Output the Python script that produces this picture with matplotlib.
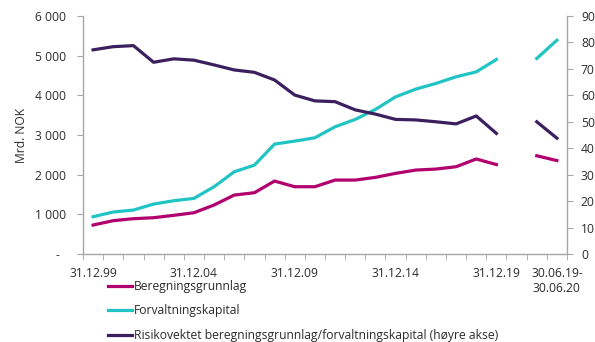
import numpy as np
import matplotlib.pyplot as plt

plt.rcParams['font.family'] = ['Open Sans', 'DejaVu Sans']

# 24 kategorier: årsslutt 1999-2019, et tomt mellomrom, deretter 30.06.19 og 30.06.20
etiketter = ['31.12.99', '', '', '', '', '31.12.04', '', '', '', '', '31.12.09',
             '', '', '', '', '31.12.14', '', '', '', '', '31.12.19', '', '',
             '30.06.19-\n30.06.20']

beregningsgrunnlag = [730, 840, 890, 915, 975, 1040, 1235, 1486, 1545, 1839,
                      1696, 1696, 1864, 1864, 1932, 2033, 2116, 2141, 2200,
                      2395, 2255, np.nan, 2477, 2355]
forvaltningskapital = [940, 1058, 1108, 1259, 1343, 1402, 1696, 2073, 2240,
                       2771, 2846, 2930, 3207, 3393, 3645, 3962, 4156, 4300,
                       4467, 4592, 4904, np.nan, 4929, 5390]
risikovektet_andel = [77.2, 78.4, 78.8, 72.5, 73.8, 73.3, 71.5, 69.6, 68.7,
                      65.8, 60.1, 57.9, 57.6, 54.5, 52.9, 50.9, 50.7, 50.0,
                      49.2, 52.2, 45.6, np.nan, 50.0, 43.8]

rosa = '#B1006E'
turkis = '#21C4C4'
lilla = '#3C1F5E'
grå = '#A6A6A6'
tekst = '#2B2B2B'
fs = 8.7

x = np.arange(len(etiketter))

fig = plt.figure(figsize=(5.95, 3.42), dpi=100)
ax = fig.add_axes([83 / 595, 1 - 254 / 342, (567 - 83) / 595, (254 - 16) / 342])
ax2 = ax.twinx()

l1, = ax.plot(x, beregningsgrunnlag, color=rosa, lw=2.3, label='Beregningsgrunnlag')
l2, = ax.plot(x, forvaltningskapital, color=turkis, lw=2.3, label='Forvaltningskapital')
l3, = ax2.plot(x, risikovektet_andel, color=lilla, lw=2.3,
               label='Risikovektet beregningsgrunnlag/forvaltningskapital (høyre akse)')

ax.set_xlim(-0.5, len(x) - 0.5)
ax.set_ylim(0, 6000)
ax2.set_ylim(0, 90)

# venstre akse
ax.set_yticks(range(0, 6001, 1000))
ax.set_yticklabels(['-  '] + [f'{v:,}'.replace(',', ' ') for v in range(1000, 6001, 1000)])
ax.tick_params(axis='y', direction='out', length=4, color=grå, pad=8.5,
               labelsize=fs, labelcolor=tekst)
ax.set_ylabel('Mrd. NOK', fontsize=fs, color=tekst, labelpad=5)

# høyre akse
ax2.set_yticks(range(0, 91, 10))
ax2.tick_params(axis='y', direction='out', length=4, color=grå, pad=6,
                labelsize=fs, labelcolor=tekst)

# kategoriakse: streker mellom kategoriene, etiketter midt på
ax.set_xticks(x)
ax.set_xticklabels(etiketter, fontsize=fs, color=tekst, linespacing=1.2, va='top')
ax.set_xticks(np.arange(-0.5, len(x)), minor=True)
ax.tick_params(axis='x', which='major', length=0, pad=9.5)
ax.tick_params(axis='x', which='minor', direction='out', length=4, color=grå)

for a in (ax, ax2):
    a.spines['top'].set_visible(False)
    for s in ('left', 'right', 'bottom'):
        a.spines[s].set_color(grå)
        a.spines[s].set_linewidth(1.0)
ax.spines['right'].set_visible(False)
ax2.spines['left'].set_visible(False)
ax2.spines['bottom'].set_visible(False)

fig.legend(handles=[l1, l2, l3], loc='upper left', bbox_to_anchor=(108 / 595, 1 - 280 / 342),
           frameon=False, fontsize=fs, labelcolor=tekst, borderpad=0, borderaxespad=0,
           handlelength=2.0, handletextpad=0.15, labelspacing=0.95)

fig.savefig('out.png', dpi=100)
